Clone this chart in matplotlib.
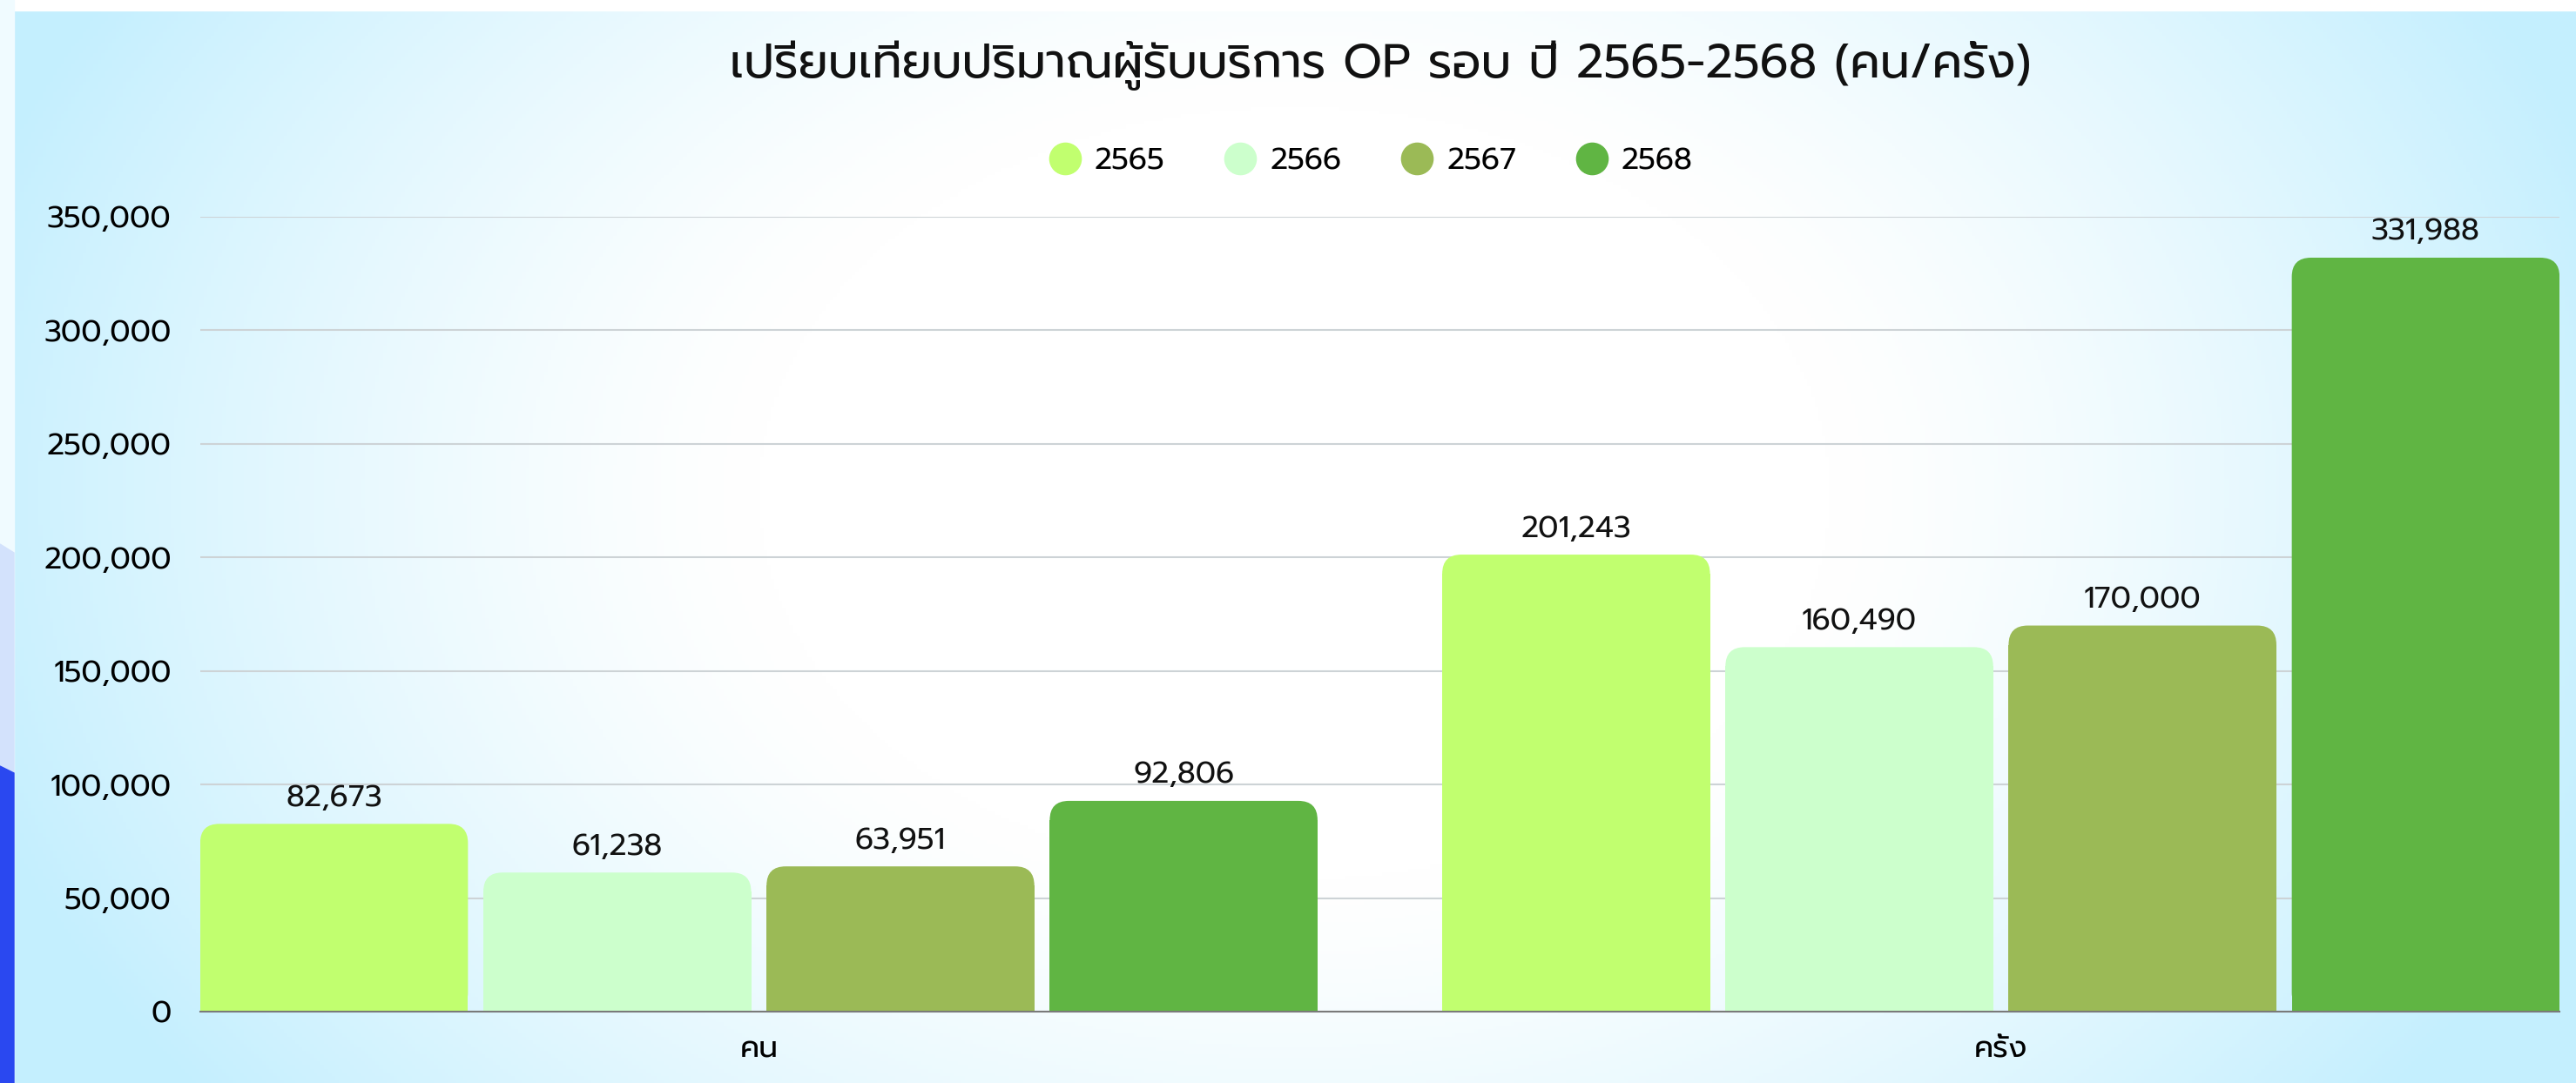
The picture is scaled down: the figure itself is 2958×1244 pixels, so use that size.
import numpy as np
import matplotlib
matplotlib.use("Agg")
import matplotlib.pyplot as plt
from matplotlib.patches import FancyBboxPatch, Rectangle, Polygon
from matplotlib.ticker import FuncFormatter, MultipleLocator

plt.rcParams["font.family"] = ["Prompt", "Kanit", "DejaVu Sans"]

title = "เปรียบเทียบปริมาณผู้รับบริการ OP รอบ ปี 2565-2568 (คน/ครั้ง)"
categories = ["คน", "ครั้ง"]
years = ["2565", "2566", "2567", "2568"]
values = {
    "2565": [82673, 201243],
    "2566": [61238, 160490],
    "2567": [63951, 170000],
    "2568": [92806, 331988],
}
colors = ["#c1ff6f", "#ccffcc", "#9bba56", "#60b543"]

W, H = 2958, 1244
fig = plt.figure(figsize=(W / 100, H / 100), dpi=100)

# background: radial cyan -> white gradient
bg = fig.add_axes([0, 0, 1, 1], zorder=-10)
bg.set_axis_off()
yy, xx = np.mgrid[0:1:300j, 0:1:700j]
d = np.sqrt(((xx - 0.5) / 0.55) ** 2 + ((yy - 0.45) / 0.95) ** 2)
t = np.clip((d - 0.38) / 0.6, 0, 1) ** 1.3
c0 = np.array([1.0, 1.0, 1.0])
c1 = np.array([0xc4, 0xef, 0xfe]) / 255
img = c0[None, None, :] * (1 - t[..., None]) + c1[None, None, :] * t[..., None]
bg.imshow(img, extent=[15 / W, 1, 0, 1 - 12 / H], aspect="auto", origin="upper")
bg.set_xlim(0, 1)
bg.set_ylim(0, 1)
# white strips and the blue shapes at the left edge
bg.add_patch(Rectangle((0, 1 - 12 / H), 1, 12 / H, color="white"))
bg.add_patch(Rectangle((0, 0), 16 / W, 1, color="#f0fbff"))
bg.add_patch(Polygon([(0, 1 - 625 / H), (16 / W, 1 - 635 / H), (16 / W, 0), (0, 0)],
                     closed=True, color="#d3e2fc"))
bg.add_patch(Polygon([(0, 1 - 880 / H), (16 / W, 1 - 888 / H), (16 / W, 0), (0, 0)],
                     closed=True, color="#2a48f0"))

ax = fig.add_axes([230 / W, 1 - 1162 / H, (2939 - 230) / W, (1162 - 249) / H])
ax.patch.set_alpha(0)

x = np.arange(len(categories))
slot = 0.228
bw = 0.2156
ymax = 350000
xhalf = 0.4497
ax.set_xlim(-xhalf, 1 + xhalf)
ax.set_ylim(0, ymax)

# rounding radius in px -> data units
ax_w_px = 2939 - 230
ax_h_px = 1162 - 249
r_px = 22
rx = r_px / ax_w_px * (1 + 2 * xhalf)
ry = r_px / ax_h_px * ymax

for i, yr in enumerate(years):
    xs = x + (i - 1.5) * slot
    for xc, v in zip(xs, values[yr]):
        x0 = xc - bw / 2
        ax.add_patch(Rectangle((x0, 0), bw, v - ry, facecolor=colors[i],
                               edgecolor="none", zorder=3))
        ax.add_patch(FancyBboxPatch((x0, 0), bw, v,
                                    boxstyle="round,pad=0,rounding_size=%f" % rx,
                                    mutation_aspect=ry / rx,
                                    facecolor=colors[i], edgecolor="none", zorder=3))
        ax.annotate(f"{v:,}", (xc, v), xytext=(0, 9), textcoords="offset points",
                    ha="center", va="bottom", fontsize=25, color="#111111", zorder=4)
    ax.scatter([], [], s=680, color=colors[i], label=yr)

ax.yaxis.set_major_locator(MultipleLocator(50000))
ax.yaxis.set_major_formatter(FuncFormatter(lambda v, p: f"{int(v):,}"))
ax.grid(axis="y", color="#cdd3d6", linewidth=1.5, zorder=0)
ax.set_axisbelow(True)
for s in ["top", "right", "left"]:
    ax.spines[s].set_visible(False)
ax.spines["bottom"].set_color("#7a7a7a")
ax.spines["bottom"].set_linewidth(1.5)
ax.spines["bottom"].set_zorder(5)
ax.set_xticks(x)
ax.set_xticklabels(categories)
ax.tick_params(axis="x", length=0, pad=20, labelsize=25)
ax.tick_params(axis="y", length=0, pad=24, labelsize=25)

fig.text(1585 / W, 1 - 75 / H, title, ha="center", va="center", fontsize=39, color="#111111")

leg = fig.legend(loc="center", bbox_to_anchor=(1571 / W, 1 - 186 / H), ncol=4,
                 frameon=False, fontsize=25, handlelength=1.4, handletextpad=0.28,
                 columnspacing=1.8, scatteryoffsets=[0.5])

fig.savefig("out.png", dpi=100)
